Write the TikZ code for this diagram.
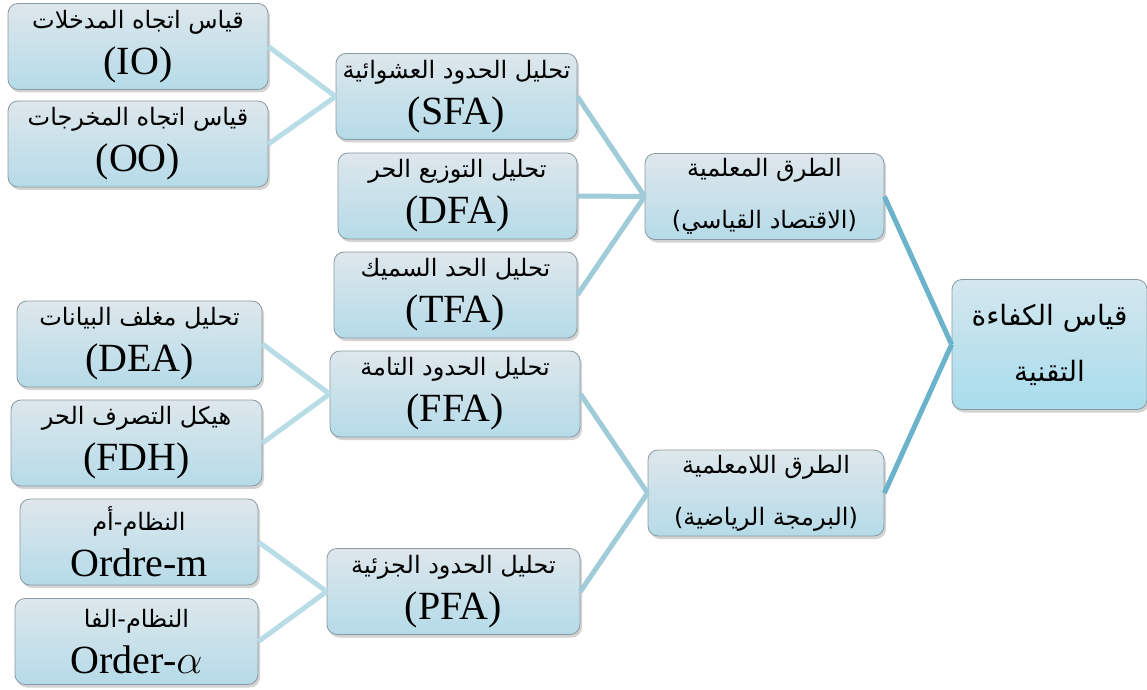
\documentclass[tikz,border=0pt]{standalone}
\usepackage{fontspec}
\usepackage{xcolor}
\usepackage{tikz}
\usetikzlibrary{shadows,backgrounds}
\setmainfont{Liberation Serif}
\newfontfamily\arabicfont[Script=Arabic]{DejaVu Sans}
\TeXXeTstate=1
\newcommand{\artxt}[1]{{\arabicfont\fontsize{12}{15}\selectfont\beginR #1\endR}}
\newcommand{\arbig}[1]{{\arabicfont\fontsize{14}{17}\selectfont\beginR #1\endR}}
\definecolor{boxtop}{HTML}{DEE7EC}
\definecolor{boxbot}{HTML}{B5DBE8}
\definecolor{roottop}{HTML}{D4E7EE}
\definecolor{rootbot}{HTML}{A8DCEC}
\definecolor{boxline}{HTML}{8A9AA2}
\definecolor{linkleaf}{HTML}{B9DDE7}
\definecolor{linkmid}{HTML}{A0CCDA}
\definecolor{linkroot}{HTML}{6BB3CB}
\tikzset{%
  box/.style={draw=boxline, thin, rounded corners=5pt, top color=boxtop, bottom color=boxbot,
    drop shadow={shadow xshift=1pt, shadow yshift=-1.5pt, opacity=0.35},
    align=center, inner sep=0pt, minimum height=43pt, font=\fontsize{20}{23}\selectfont},
  rootbox/.style={box, top color=roottop, bottom color=rootbot, minimum height=65pt},
  linkA/.style={draw=linkleaf, line width=2.5pt},
  linkB/.style={draw=linkmid, line width=2.5pt},
  linkC/.style={draw=linkroot, line width=2.5pt}
}

\begin{document}
\begin{tikzpicture}[x=0.5pt,y=-0.5pt]
\useasboundingbox (0,0) rectangle (1147,690);
% leaves
\node[box, minimum width=130pt] (io) at (138,46.5) {\artxt{قياس اتجاه المدخلات}\\(IO)};
\node[box, minimum width=130pt] (oo) at (138,144) {\artxt{قياس اتجاه المخرجات}\\(OO)};
\node[box, minimum width=122.5pt] (dea) at (139.5,344) {\artxt{تحليل مغلف البيانات}\\(DEA)};
\node[box, minimum width=125.5pt] (fdh) at (136.5,443) {\artxt{هيكل التصرف الحر}\\(FDH)};
\node[box, minimum width=119pt] (ordm) at (139,542) {\artxt{النظام-أم}\\Ordre-m};
\node[box, minimum width=121.5pt] (orda) at (136.5,641.5) {\artxt{النظام-الفا}\\Order-$\alpha$};
% middle
\node[box, minimum width=120.5pt] (sfa) at (456.5,96.5) {\artxt{تحليل الحدود العشوائية}\\(SFA)};
\node[box, minimum width=119.5pt] (dfa) at (457.5,196) {\artxt{تحليل التوزيع الحر}\\(DFA)};
\node[box, minimum width=121.5pt] (tfa) at (455.5,295) {\artxt{تحليل الحد السميك}\\(TFA)};
\node[box, minimum width=125pt] (ffa) at (455,394) {\artxt{تحليل الحدود التامة}\\(FFA)};
\node[box, minimum width=126.5pt] (pfa) at (453.5,591.5) {\artxt{تحليل الحدود الجزئية}\\(PFA)};
% methods
\node[box, minimum width=119.5pt] (param) at (764.5,196.5) {\artxt{الطرق المعلمية}\\[3pt]\artxt{(الاقتصاد القياسي)}};
\node[box, minimum width=118pt] (nonparam) at (766,493) {\artxt{الطرق اللامعلمية}\\[3pt]\artxt{(البرمجة الرياضية)}};
% root
\node[rootbox, minimum width=97.5pt] (root) at (1049.5,344.5) {\arbig{قياس الكفاءة}\\[5pt]\arbig{التقنية}};
% links
\draw[linkA] (io.east) -- (sfa.west);
\draw[linkA] (oo.east) -- (sfa.west);
\draw[linkA] (dea.east) -- (ffa.west);
\draw[linkA] (fdh.east) -- (ffa.west);
\draw[linkA] (ordm.east) -- (pfa.west);
\draw[linkA] (orda.east) -- (pfa.west);
\draw[linkB] (sfa.east) -- (param.west);
\draw[linkB] (dfa.east) -- (param.west);
\draw[linkB] (tfa.east) -- (param.west);
\draw[linkB] (ffa.east) -- (nonparam.west);
\draw[linkB] (pfa.east) -- (nonparam.west);
\draw[linkC] (param.east) -- (root.west);
\draw[linkC] (nonparam.east) -- (root.west);
\end{tikzpicture}
\end{document}
